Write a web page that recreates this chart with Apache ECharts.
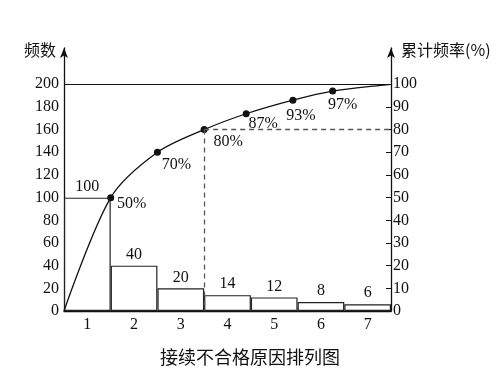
<!DOCTYPE html>
<html>
<head>
<meta charset="utf-8">
<script src="https://cdn.jsdelivr.net/npm/echarts@6/dist/echarts.min.js"></script>
<style>
  html, body { margin: 0; padding: 0; background: #fff; }
  #main { width: 500px; height: 377px; }
</style>
</head>
<body>
<div id="main"></div>
<script>
var categories = ['1', '2', '3', '4', '5', '6', '7'];
var counts = [100, 40, 20, 14, 12, 8, 6];
// cumulative frequency points: [x position on category boundaries, percent]
var cumX = [0, 1, 2, 3, 3.9, 4.9, 5.75, 7];
var cumPct = [0, 50, 70, 80, 87, 93, 97, 100];
var cumLabels = ['', '50%', '70%', '80%', '87%', '93%', '97%', ''];
var leftTicks = [0, 20, 40, 60, 80, 100, 120, 140, 160, 180, 200];
var rightTicks = [0, 10, 20, 30, 40, 50, 60, 70, 80, 90, 100];

// label placement (style only)
var labelOffsets = [[0, 0], [21, 6], [19, 13], [24, 12], [17, 10], [8, 16], [10, 14], [0, 0]];

var serif = '"Liberation Serif", "DejaVu Serif", serif';
var cjk = '"Noto Sans CJK SC", sans-serif';
var ink = '#111';

var chart = echarts.init(document.getElementById('main'));

var lineData = cumX.map(function (x, i) {
    var last = i === 0 || i === cumX.length - 1;
    return {
        value: [x, cumPct[i]],
        symbol: last ? 'none' : 'circle',
        label: {
            show: !last,
            formatter: cumLabels[i],
            position: 'inside',
            offset: labelOffsets[i]
        }
    };
});

var option = {
    animation: false,
    title: {
        text: '接续不合格原因排列图',
        left: 'center',
        top: 343,
        textStyle: { fontFamily: cjk, fontSize: 18, fontWeight: 'normal', color: ink }
    },
    grid: { left: 64, right: 109, top: 48, bottom: 66 },
    xAxis: [{
        type: 'category',
        data: categories,
        axisLine: { lineStyle: { color: ink, width: 1.3 } },
        axisTick: { show: false },
        axisLabel: { fontFamily: serif, fontSize: 16, color: ink, margin: 6 }
    }, {
        type: 'value',
        min: 0,
        max: 7,
        show: false
    }],
    yAxis: [{
        type: 'value',
        min: 0,
        max: 232,
        interval: 20,
        name: '频数',
        nameLocation: 'end',
        nameGap: -2,
        nameTextStyle: { fontFamily: cjk, fontSize: 16, color: ink, align: 'right', verticalAlign: 'middle', padding: [0, 8, 0, 0] },
        splitLine: { show: false },
        axisTick: { show: false },
        axisLine: { show: true, symbol: ['none', 'arrow'], symbolSize: [6, 10], lineStyle: { color: ink, width: 1.3 } },
        axisLabel: {
            customValues: leftTicks,
            formatter: function (v) { return v > 200 ? '' : v; },
            fontFamily: serif, fontSize: 16, color: ink, margin: 5
        }
    }, {
        type: 'value',
        min: 0,
        max: 116,
        interval: 10,
        position: 'right',
        name: '累计频率(%)',
        nameLocation: 'end',
        nameGap: -2,
        nameTextStyle: { fontFamily: cjk, fontSize: 16, color: ink, align: 'left', verticalAlign: 'middle', padding: [0, 0, 0, 10] },
        splitLine: { show: false },
        axisTick: { show: true, inside: true, length: 5, customValues: rightTicks, lineStyle: { color: ink } },
        axisLine: { show: true, symbol: ['none', 'arrow'], symbolSize: [6, 10], lineStyle: { color: ink, width: 1.3 } },
        axisLabel: {
            customValues: rightTicks,
            formatter: function (v) { return v > 100 ? '' : v; },
            fontFamily: serif, fontSize: 16, color: ink, margin: 2
        }
    }],
    series: [{
        type: 'bar',
        xAxisIndex: 0,
        yAxisIndex: 0,
        data: counts,
        barCategoryGap: '0%',
        itemStyle: { color: '#fff', borderColor: '#222', borderWidth: 1.2 },
        label: { show: true, position: 'top', distance: 3, fontFamily: serif, fontSize: 16, color: ink },
        markLine: {
            silent: true,
            symbol: 'none',
            label: { show: false },
            lineStyle: { color: ink, type: 'solid', width: 1.2 },
            data: [{ yAxis: 200 }]
        }
    }, {
        type: 'line',
        xAxisIndex: 1,
        yAxisIndex: 1,
        data: lineData,
        smooth: 0.3,
        symbolSize: 7,
        itemStyle: { color: '#111' },
        lineStyle: { color: ink, width: 1.3 },
        label: { fontFamily: serif, fontSize: 16, color: ink },
        markLine: {
            silent: true,
            symbol: 'none',
            label: { show: false },
            lineStyle: { color: '#555', type: [5, 4], width: 1.3 },
            data: [
                [{ coord: [3, 80] }, { coord: [7, 80] }],
                [{ coord: [3, 80] }, { coord: [3, 0] }]
            ]
        }
    }]
};

chart.setOption(option);
</script>
</body>
</html>
